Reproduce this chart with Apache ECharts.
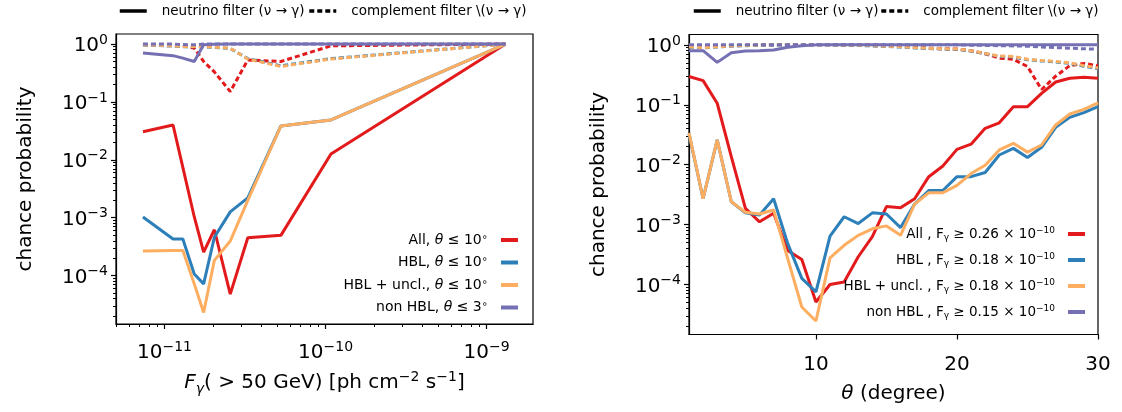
<!DOCTYPE html>
<html>
<head>
<meta charset="utf-8">
<script src="https://cdn.jsdelivr.net/npm/echarts@6/dist/echarts.min.js"></script>
<style>
html, body { margin: 0; padding: 0; background: #fff; }
#chart { width: 1122px; height: 412px; }
</style>
</head>
<body>
<div id="chart"></div>
<script>
// ---- data ----
// left panel: flux threshold (ph cm^-2 s^-1)
var fluxThr = [7.35e-12, 1.13e-11, 1.30e-11, 1.53e-11, 1.75e-11, 2.04e-11, 2.56e-11, 3.29e-11, 5.28e-11, 1.08e-10, 1.31e-9];
var allSolidL  = [0.0306, 0.040, 7.4e-3, 1.04e-3, 2.55e-4, 6.2e-4, 4.8e-5, 4.5e-4, 4.96e-4, 0.0126, 1.0];
var hblSolidL  = [1.03e-3, 4.3e-4, 4.3e-4, 1.07e-4, 7.2e-5, 4.6e-4, 1.26e-3, 2.2e-3, 0.0384, 0.0488, 1.0];
var hbluSolidL = [2.65e-4, 2.72e-4, 2.72e-4, 7.2e-5, 2.3e-5, 1.83e-4, 3.95e-4, 2.0e-3, 0.0384, 0.0488, 1.0];
var nonSolidL  = [0.70, 0.63, 0.57, 0.50, 0.97, 0.99, 1.0, 1.0, 1.0, 1.0, 1.0];
var allDashL   = [0.97, 0.97, 0.93, 0.85, 0.50, 0.33, 0.151, 0.53, 0.50, 0.93, 1.0];
var hblDashL   = [0.96, 0.92, 0.90, 0.90, 0.90, 0.87, 0.84, 0.56, 0.42, 0.56, 1.0];
var hbluDashL  = [0.97, 0.93, 0.91, 0.91, 0.91, 0.88, 0.85, 0.55, 0.41, 0.55, 1.0];
var nonDashL   = [1.0, 1.0, 0.98, 0.97, 1.0, 1.0, 1.0, 1.0, 1.0, 1.0, 1.0];

// right panel: angular cut (degree)
var theta = [1, 2, 3, 4, 5, 6, 7, 8, 9, 10, 11, 12, 13, 14, 15, 16, 17, 18, 19, 20, 21, 22, 23, 24, 25, 26, 27, 28, 29, 30];
var allSolidR  = [0.296, 0.253, 0.106, 0.0136, 1.86e-3, 1.11e-3, 1.54e-3, 3.7e-4, 2.6e-4, 5.1e-5, 1.0e-4, 1.1e-4, 2.9e-4, 6.3e-4, 2.0e-3, 1.9e-3, 2.7e-3, 6.3e-3, 9.5e-3, 0.018, 0.022, 0.0405, 0.050, 0.093, 0.093, 0.155, 0.24, 0.277, 0.288, 0.277];
var hblSolidR  = [0.033, 2.7e-3, 0.026, 2.4e-3, 1.57e-3, 1.44e-3, 2.7e-3, 4.8e-4, 1.26e-4, 7.5e-5, 6.4e-4, 1.35e-3, 1.04e-3, 1.57e-3, 1.5e-3, 8.9e-4, 2.2e-3, 3.7e-3, 3.7e-3, 6.3e-3, 6.3e-3, 7.4e-3, 0.0145, 0.0187, 0.0132, 0.0195, 0.042, 0.0617, 0.074, 0.093];
var hbluSolidR = [0.034, 2.7e-3, 0.026, 2.4e-3, 1.6e-3, 1.5e-3, 1.75e-3, 2.7e-4, 4.2e-5, 2.45e-5, 2.77e-4, 4.5e-4, 6.6e-4, 8.5e-4, 9.5e-4, 6.6e-4, 2.2e-3, 3.4e-3, 3.4e-3, 4.5e-3, 7.1e-3, 9.8e-3, 0.0176, 0.0227, 0.0162, 0.0213, 0.046, 0.07, 0.084, 0.108];
var nonSolidR  = [0.80, 0.80, 0.51, 0.74, 0.79, 0.80, 0.82, 0.91, 0.97, 1.0, 1.0, 1.0, 1.0, 1.0, 1.0, 1.0, 1.0, 1.0, 1.0, 1.0, 1.0, 1.0, 1.0, 1.0, 1.0, 1.0, 1.0, 1.0, 1.0, 1.0];
var allDashR   = [0.93, 0.92, 0.95, 0.97, 0.98, 0.99, 1.0, 1.0, 1.0, 1.0, 1.0, 1.0, 1.0, 0.99, 0.98, 0.96, 0.92, 0.88, 0.86, 0.85, 0.80, 0.71, 0.60, 0.575, 0.435, 0.18, 0.30, 0.45, 0.49, 0.45];
var hblDashR   = [0.92, 0.89, 0.92, 0.95, 0.97, 0.98, 0.99, 1.0, 1.0, 1.0, 1.0, 0.99, 0.98, 0.96, 0.94, 0.92, 0.89, 0.87, 0.85, 0.84, 0.79, 0.71, 0.64, 0.63, 0.565, 0.54, 0.52, 0.49, 0.44, 0.40];
var hbluDashR  = [0.93, 0.90, 0.93, 0.96, 0.98, 0.99, 1.0, 1.0, 1.0, 1.0, 1.0, 0.99, 0.98, 0.97, 0.95, 0.93, 0.90, 0.88, 0.86, 0.85, 0.80, 0.72, 0.65, 0.64, 0.575, 0.55, 0.53, 0.50, 0.45, 0.41];
var nonDashR   = [1.0, 1.0, 1.0, 1.0, 1.0, 1.0, 1.0, 1.0, 1.0, 1.0, 1.0, 1.0, 1.0, 1.0, 1.0, 1.0, 1.0, 1.0, 1.0, 1.0, 0.99, 0.98, 0.97, 0.96, 0.95, 0.92, 0.90, 0.88, 0.86, 0.85];

// labels
var groupsL = ['All', 'HBL', 'HBL + uncl.', 'non HBL'];
var thetaCut = ['10', '10', '10', '3'];
var groupsR = ['All ', 'HBL ', 'HBL + uncl. ', 'non HBL '];
var fluxCut = ['0.26', '0.18', '0.18', '0.15'];
var filterNames = ['neutrino filter (\u03bd \u2192 \u03b3)', 'complement filter \\(\u03bd \u2192 \u03b3)'];

var xMajorL = [1e-11, 1e-10, 1e-9];
var yMajor = [1e-4, 1e-3, 1e-2, 1e-1, 1];
var xMajorR = [10, 20, 30];

var colors = ['#e31a1c', '#2c7fb8', '#fdae61', '#7570b3'];
var FONT = 'DejaVu Sans';

function minorTicks(lo, hi) {
	var out = [];
	for (var e = lo; e <= hi; e++) {
		for (var m = 2; m <= 9; m++) out.push(m * Math.pow(10, e));
	}
	return out;
}
var xMinorL = minorTicks(-12, -10).concat([2e-9]);
var yMinor = minorTicks(-5, -1);

function powLabel(v) {
	var e = Math.round(Math.log10(v));
	return '{b|10}{s|' + (e < 0 ? '\u2212' + (-e) : e) + '}';
}
var powRich = {
	b: { fontSize: 20, lineHeight: 22, padding: [4, 0, 0, 0], fontFamily: FONT, color: '#000' },
	s: { fontSize: 14, lineHeight: 14, verticalAlign: 'top', fontFamily: FONT, color: '#000' }
};

var namesL = groupsL.map(function (g, i) { return g + ', \u03b8 \u2264 ' + thetaCut[i] + '\u00b0'; });
var namesR = groupsR.map(function (g, i) { return g + ', F\u03b3 \u2265 ' + fluxCut[i] + ' \u00d7 10\u207b\u00b9\u2070'; });
var richName = {};
groupsL.forEach(function (g, i) {
	richName[namesL[i]] = '{n|' + g + ', }{i|\u03b8}{n| \u2264 ' + thetaCut[i] + '}{d|\u2218}';
});
groupsR.forEach(function (g, i) {
	richName[namesR[i]] = '{n|' + g + ', F}{sub|\u03b3}{n| \u2265 ' + fluxCut[i] + ' \u00d7 10}{sup|\u221210}';
});
function legendRich(fs) {
	var small = Math.round(fs * 0.7);
	return {
		n: { fontSize: fs, lineHeight: 16, fontFamily: FONT, color: '#000' },
		i: { fontSize: fs, lineHeight: 16, fontStyle: 'italic', fontFamily: FONT, color: '#000' },
		d: { fontSize: small, lineHeight: small, verticalAlign: 'top', fontFamily: FONT, color: '#000' },
		sub: { fontSize: small, lineHeight: small, verticalAlign: 'bottom', fontFamily: FONT, color: '#000' },
		sup: { fontSize: small, lineHeight: small, verticalAlign: 'top', fontFamily: FONT, color: '#000' }
	};
}

function pairs(xs, ys) {
	return xs.map(function (x, i) { return [x, ys[i]]; });
}
function line(name, xs, ys, color, dashed, xi, yi) {
	return {
		type: 'line', name: name, xAxisIndex: xi, yAxisIndex: yi,
		data: pairs(xs, ys), symbol: 'none', silent: true, animation: false,
		lineStyle: { color: color, width: 3, type: dashed ? [5, 3] : 'solid', cap: 'butt' },
		itemStyle: { color: color }
	};
}

var YMIN = 1.46e-5, YMAX = 1.49;

function yAxes(gi) {
	return [{
		type: 'log', gridIndex: gi, min: YMIN, max: YMAX, position: 'left',
		axisLine: { show: true, lineStyle: { color: '#000', width: 1.2 } },
		axisTick: { customValues: yMajor, length: 5, lineStyle: { color: '#000', width: 1.2 } },
		axisLabel: { customValues: yMajor, formatter: powLabel, rich: powRich, margin: 8 },
		splitLine: { show: false },
		name: 'chance probability', nameLocation: 'middle', nameGap: 80,
		nameTextStyle: { fontSize: 20, fontFamily: FONT, color: '#000' }
	}, {
		type: 'log', gridIndex: gi, min: YMIN, max: YMAX, position: 'left',
		axisLine: { show: false },
		axisTick: { customValues: yMinor, length: 3, lineStyle: { color: '#000', width: 1 } },
		axisLabel: { show: false },
		splitLine: { show: false }
	}];
}

var xNameRich = {
	i: { fontSize: 20, lineHeight: 26, fontStyle: 'italic', fontFamily: FONT, color: '#000' },
	n: { fontSize: 20, lineHeight: 26, fontFamily: FONT, color: '#000' },
	sub: { fontSize: 14, lineHeight: 14, fontStyle: 'italic', verticalAlign: 'bottom', fontFamily: FONT, color: '#000' },
	sup: { fontSize: 14, lineHeight: 14, verticalAlign: 'top', fontFamily: FONT, color: '#000' }
};

var series = [];
var setsL = [[allSolidL, allDashL], [hblSolidL, hblDashL], [hbluSolidL, hbluDashL], [nonSolidL, nonDashL]];
var setsR = [[allSolidR, allDashR], [hblSolidR, hblDashR], [hbluSolidR, hbluDashR], [nonSolidR, nonDashR]];
setsL.forEach(function (s, i) {
	series.push(line(namesL[i], fluxThr, s[0], colors[i], false, 0, 0));
	series.push(line(namesL[i], fluxThr, s[1], colors[i], true, 0, 0));
});
setsR.forEach(function (s, i) {
	series.push(line(namesR[i], theta, s[0], colors[i], false, 2, 2));
	series.push(line(namesR[i], theta, s[1], colors[i], true, 2, 2));
});
series.push(line(filterNames[0], [], [], '#000', false, 0, 0));
series.push(line(filterNames[1], [], [], '#000', true, 0, 0));

function topLegend(left, gap) {
	return {
		data: filterNames, left: left, top: 4, width: 600, padding: 0, itemGap: gap,
		itemWidth: 27, itemHeight: 14, selectedMode: false,
		itemStyle: { opacity: 0 },
		lineStyle: { width: 3.5 },
		textStyle: { fontSize: 13.5, fontFamily: FONT, color: '#000', padding: [0, 0, 0, 10] }
	};
}
function innerLegend(names, right, top, gap, fs) {
	return {
		data: names, orient: 'vertical', right: right, top: top, padding: 0,
		align: 'right', itemGap: gap, itemWidth: 17, itemHeight: 14, selectedMode: false,
		itemStyle: { opacity: 0 },
		lineStyle: { width: 4 },
		formatter: function (n) { return richName[n]; },
		textStyle: { rich: legendRich(fs), padding: [0, 8, 0, 0] }
	};
}

var chart = echarts.init(document.getElementById('chart'));
chart.setOption({
	animation: false,
	backgroundColor: '#fff',
	textStyle: { fontFamily: FONT },
	grid: [
		{ left: 116, top: 34, width: 417, height: 290, show: true, borderColor: '#000', borderWidth: 1.2 },
		{ left: 689, top: 34.5, width: 409, height: 300, show: true, borderColor: '#000', borderWidth: 1.2 }
	],
	legend: [
		topLegend(118, 3),
		topLegend(692, 1),
		innerLegend(namesL, 602, 232, 7.5, 14),
		innerLegend(namesR, 35, 226, 10, 13.5)
	],
	xAxis: [{
		type: 'log', gridIndex: 0, min: 5.0e-12, max: 1.94e-9, position: 'bottom',
		axisLine: { show: true, lineStyle: { color: '#000', width: 1.2 } },
		axisTick: { customValues: xMajorL, length: 5, lineStyle: { color: '#000', width: 1.2 } },
		axisLabel: { customValues: xMajorL, formatter: powLabel, rich: powRich, margin: 16 },
		splitLine: { show: false },
		name: '{i|F}{sub|\u03b3}{n|( > 50 GeV) [ph cm}{sup|\u22122}{n| s}{sup|\u22121}{n|]}',
		nameLocation: 'middle', nameGap: 46,
		nameTextStyle: { rich: xNameRich }
	}, {
		type: 'log', gridIndex: 0, min: 5.0e-12, max: 1.94e-9, position: 'bottom',
		axisLine: { show: false },
		axisTick: { customValues: xMinorL, length: 3, lineStyle: { color: '#000', width: 1 } },
		axisLabel: { show: false },
		splitLine: { show: false }
	}, {
		type: 'value', gridIndex: 1, min: 1, max: 30, position: 'bottom',
		axisLine: { show: true, lineStyle: { color: '#000', width: 1.2 } },
		axisTick: { customValues: xMajorR, length: 5, lineStyle: { color: '#000', width: 1.2 } },
		axisLabel: { customValues: xMajorR, fontSize: 20, fontFamily: FONT, color: '#000', margin: 20 },
		splitLine: { show: false },
		name: '{i|\u03b8}{n| (degree)}',
		nameLocation: 'middle', nameGap: 46,
		nameTextStyle: { rich: xNameRich }
	}],
	yAxis: yAxes(0).concat(yAxes(1)),
	series: series
});
</script>
</body>
</html>
